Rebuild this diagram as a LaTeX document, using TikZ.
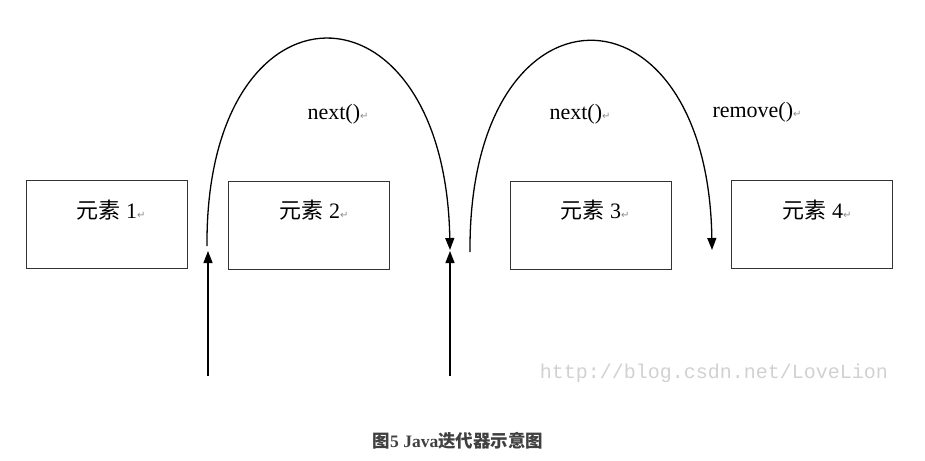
\documentclass[tikz,border=0pt]{standalone}
\usepackage{fontspec}
\setmainfont{Liberation Serif}
\newfontfamily\cjk{Noto Sans CJK SC}
\newfontfamily\symf{DejaVu Sans}
\newfontfamily\wmfont{Liberation Mono}
\usetikzlibrary{arrows.meta}
\newcommand{\parmark}{{\symf\fontsize{10}{10}\selectfont\color{black!45}↵}}
\begin{document}
\begin{tikzpicture}[x=1pt,y=-1pt,
  elem/.style={draw=black!80,line width=0.9pt,minimum width=161pt,minimum height=88pt,inner sep=0pt},
  lbl/.style={font=\fontsize{22}{24}\selectfont,inner sep=0pt},
  conn/.style={line width=1.3pt,-{Triangle[length=12pt,width=9pt]}}]
\useasboundingbox (0,0) rectangle (925,460);
\node[elem] (b1) at (106.5,224.5) {};
\node[elem] (b2) at (308.5,225) {};
\node[elem] (b3) at (590.5,225) {};
\node[elem] (b4) at (812,224.5) {};
\node[lbl] (t1) at (111,210) {{\cjk 元素} 1\parmark};
\node[lbl] (t2) at (314,210) {{\cjk 元素} 2\parmark};
\node[lbl] (t3) at (595,210) {{\cjk 元素} 3\parmark};
\node[lbl] (t4) at (817,210) {{\cjk 元素} 4\parmark};
\node[lbl] (n1) at (338,114) {next()\parmark};
\node[lbl] (n2) at (580,114) {next()\parmark};
\node[lbl] (n3) at (757,112) {remove()\parmark};
\coordinate (s1) at (208,376);
\coordinate (e1) at (208,251);
\coordinate (s2) at (450,376);
\coordinate (e2) at (450,251);
\coordinate (a1s) at (207,246);
\coordinate (a1e) at (450,250);
\coordinate (a2s) at (470,252);
\coordinate (a2e) at (712,250);
\draw[conn] (s1) -- (e1);
\draw[conn] (s2) -- (e2);
\draw[conn] (a1s) .. controls (205,-30) and (445,-30) .. (a1e);
\draw[conn] (a2s) .. controls (468,-28) and (708,-28) .. (a2e);
\node[inner sep=0pt,text=black!18,font=\wmfont\fontsize{20}{20}\selectfont] (wm) at (714,373) {http://blog.csdn.net/LoveLion};
\node[inner sep=0pt,text=black!75,font=\bfseries\fontsize{17.5}{17.5}\selectfont] (cap) at (458,441) {{\cjk\bfseries 图}5 Java{\cjk\bfseries 迭代器示意图}};
\end{tikzpicture}
\end{document}
